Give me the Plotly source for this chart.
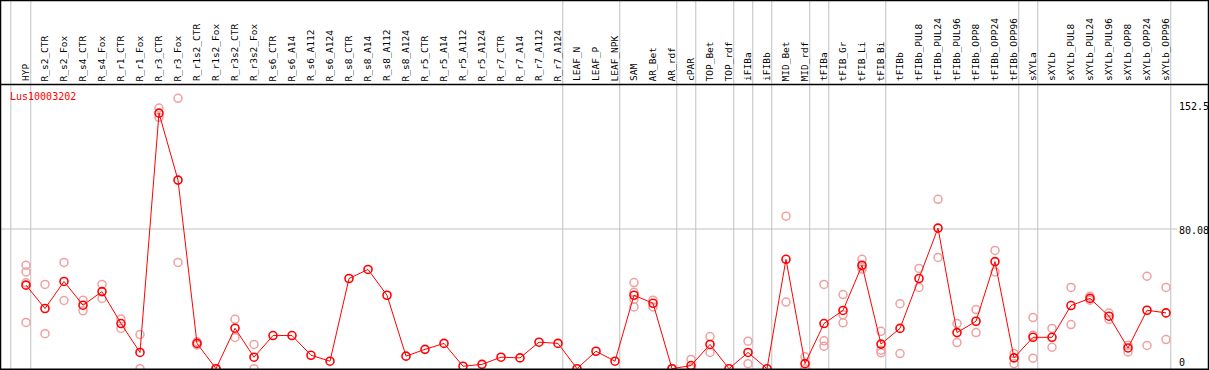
import plotly.graph_objects as go

categories = [
    "HYP", "R_s2_CTR", "R_s2_Fox", "R_s4_CTR", "R_s4_Fox", "R_r1_CTR", "R_r1_Fox",
    "R_r3_CTR", "R_r3_Fox", "R_r1s2_CTR", "R_r1s2_Fox", "R_r3s2_CTR", "R_r3s2_Fox",
    "R_s6_CTR", "R_s6_A14", "R_s6_A112", "R_s6_A124", "R_s8_CTR", "R_s8_A14",
    "R_s8_A112", "R_s8_A124", "R_r5_CTR", "R_r5_A14", "R_r5_A112", "R_r5_A124",
    "R_r7_CTR", "R_r7_A14", "R_r7_A112", "R_r7_A124", "LEAF_N", "LEAF_P", "LEAF_NPK",
    "SAM", "AR_Bet", "AR_rdf", "cPAR", "TOP_Bet", "TOP_rdf", "iFIBa", "iFIBb",
    "MID_Bet", "MID_rdf", "tFIBa", "tFIB_Gr", "tFIB_Li", "tFIB_Bi", "tFIBb",
    "tFIBb_PUL8", "tFIBb_PUL24", "tFIBb_PUL96", "tFIBb_OPP8", "tFIBb_OPP24", "tFIBb_OPP96",
    "sXYLa", "sXYLb", "sXYLb_PUL8", "sXYLb_PUL24", "sXYLb_PUL96", "sXYLb_OPP8",
    "sXYLb_OPP24", "sXYLb_OPP96",
]

means = [
    47.9, 34.5, 50.0, 36.4, 44.2, 25.9, 9.3, 146.5, 108.1, 14.5, 0.0, 23.2, 6.6,
    19.0, 19.0, 7.7, 4.3, 51.7, 56.9, 42.1, 7.2, 11.1, 14.5, 1.4, 2.5,
    6.6, 6.2, 15.2, 14.5, 0.0, 10.0, 4.3,
    42.1, 37.5, 0.0, 1.8, 13.9, 0.0, 9.3, 0.0,
    62.7, 2.9, 25.9, 33.4, 59.3, 14.1, 23.1,
    51.7, 80.6, 20.7, 27.2, 61.4, 6.2,
    18.0, 18.0, 36.2, 40.3, 30.1, 11.9, 33.5, 32.0,
]

replicates = {
    "HYP": [59.3, 55.5, 49.2, 26.5],
    "R_s2_CTR": [48.3, 20.1],
    "R_s2_Fox": [60.9, 39.1],
    "R_s4_CTR": [39.3, 33.2],
    "R_s4_Fox": [48.3, 40.3],
    "R_r1_CTR": [28.5, 23.1],
    "R_r1_Fox": [19.6, 0.0],
    "R_r3_CTR": [149.4, 144.1],
    "R_r3_Fox": [155.0, 60.9],
    "R_r1s2_CTR": [15.4, 13.6],
    "R_r1s2_Fox": [0.0, 0.0],
    "R_r3s2_CTR": [28.3, 17.9],
    "R_r3s2_Fox": [13.9, 0.0],
    "SAM": [49.4, 43.8, 39.7, 35.4],
    "AR_Bet": [39.3, 35.4],
    "AR_rdf": [0.0, 0.0],
    "cPAR": [5.3, 0.0],
    "TOP_Bet": [18.4, 9.3],
    "iFIBa": [15.8, 2.9],
    "MID_Bet": [87.4, 38.2],
    "MID_rdf": [6.8, 0.0],
    "tFIBa": [48.3, 16.0, 12.9],
    "tFIB_Gr": [42.5, 30.9, 26.3],
    "tFIB_Li": [62.7, 58.4, 57.1],
    "tFIB_Bi": [21.4, 10.6, 9.1],
    "tFIBb": [37.3, 8.7],
    "tFIBb_PUL8": [57.5, 46.6],
    "tFIBb_PUL24": [97.1, 63.8],
    "tFIBb_PUL96": [25.9, 15.0],
    "tFIBb_OPP8": [33.9, 20.7],
    "tFIBb_OPP24": [67.8, 55.5],
    "tFIBb_OPP96": [8.7, 2.9],
    "sXYLa": [29.3, 19.2, 6.0],
    "sXYLb": [23.1, 12.3],
    "sXYLb_PUL8": [46.6, 25.3],
    "sXYLb_PUL24": [41.6, 39.3],
    "sXYLb_PUL96": [28.2, 31.9],
    "sXYLb_OPP8": [9.6, 13.5],
    "sXYLb_OPP24": [53.0, 13.3],
    "sXYLb_OPP96": [46.6, 16.7],
}

# groups end after these categories (separator lines)
group_ends = ["HYP", "R_r7_A124", "LEAF_NPK", "AR_rdf", "cPAR", "TOP_rdf", "iFIBa",
              "iFIBb", "MID_rdf", "tFIBa", "tFIB_Bi", "tFIBb_OPP96", "sXYLa", "sXYLb_OPP96"]

y_ticks = [152.5, 80.08, 0]
gene = "Lus10003202"

W, H = 1209, 370
x_index = list(range(len(categories)))

rx, ry = [], []
for name, vals in replicates.items():
    i = categories.index(name)
    for v in vals:
        rx.append(i)
        ry.append(v)

fig = go.Figure()
fig.add_trace(go.Scatter(
    x=rx, y=ry, mode="markers",
    marker=dict(symbol="circle-open", size=8, color="#f0a0a0", line=dict(width=1.5, color="#f0a0a0")),
    hoverinfo="skip", cliponaxis=False,
))
fig.add_trace(go.Scatter(
    x=x_index, y=means, mode="lines+markers",
    line=dict(color="#ff0000", width=1),
    marker=dict(symbol="circle-open", size=8, color="#ff0000", line=dict(width=1.6, color="#ff0000")),
    cliponaxis=False,
))

# pixel helpers for layout (x: category axis, y: value axis)
x0px, xstep = 26.0, 19.0
y0px, yscale = 368.7, 1.7445
x_range = [(0 - x0px) / xstep, (W - x0px) / xstep]
y_range = [(y0px - H) / yscale, y0px / yscale]

def py(px):
    return 1 - px / H

def pxx(px):
    return px / W

shapes = []
# vertical separators
sep_positions = [-0.8] + [categories.index(n) + 0.25 for n in group_ends]
for s in sep_positions:
    shapes.append(dict(type="line", xref="x", yref="paper", x0=s, x1=s, y0=0, y1=1,
                       line=dict(color="#c0c0c0", width=1), layer="below"))
# horizontal gridline
shapes.append(dict(type="line", xref="paper", yref="y", x0=0, x1=pxx(1177), y0=80.08, y1=80.08,
                   line=dict(color="#c0c0c0", width=1), layer="below"))
# black borders
for yp in [0.5, 84.5, 369.3]:
    shapes.append(dict(type="line", xref="paper", yref="paper", x0=0, x1=1, y0=py(yp), y1=py(yp),
                       line=dict(color="#000000", width=1.5)))
for xp in [0.5, 1208.5]:
    shapes.append(dict(type="line", xref="paper", yref="paper", x0=pxx(xp), x1=pxx(xp), y0=0, y1=1,
                       line=dict(color="#000000", width=1.5)))

annotations = []
mono = "DejaVu Sans Mono"
for i, c in enumerate(categories):
    annotations.append(dict(text=c, x=i, xref="x", y=py(83.5), yref="paper", xanchor="center",
                            yanchor="bottom", textangle=-90, showarrow=False, xshift=-1,
                            font=dict(family=mono, size=9.5, color="#000000")))
tick_px = {152.5: 107, 80.08: 231, 0: 362}
for t in y_ticks:
    annotations.append(dict(text=str(t), x=pxx(1177), xref="paper", y=py(tick_px[t]), yref="paper",
                            xanchor="left", yanchor="middle", showarrow=False,
                            font=dict(family=mono, size=10, color="#000000")))
annotations.append(dict(text=gene, x=pxx(8), xref="paper", y=py(96.5), yref="paper",
                        xanchor="left", yanchor="middle", showarrow=False,
                        font=dict(family=mono, size=10, color="#ff0000")))

fig.update_layout(
    width=W, height=H, margin=dict(l=0, r=0, t=0, b=0),
    paper_bgcolor="white", plot_bgcolor="white", showlegend=False,
    xaxis=dict(range=x_range, visible=False, fixedrange=True),
    yaxis=dict(range=y_range, visible=False, fixedrange=True),
    shapes=shapes, annotations=annotations,
)
fig.write_html(
    "out.html",
    config={"displayModeBar": False},
    post_script="document.body.style.margin='0px';document.body.style.overflow='hidden';",
)
